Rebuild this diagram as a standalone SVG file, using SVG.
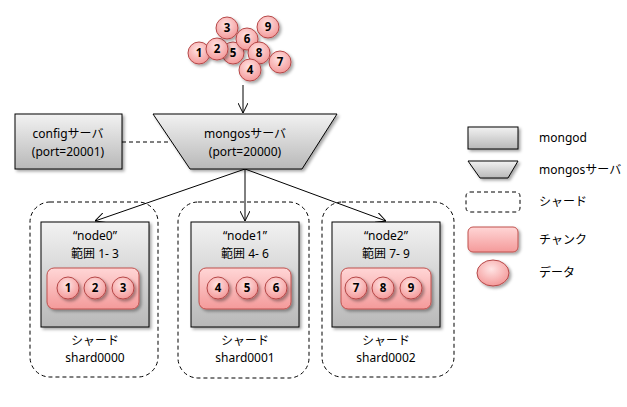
<svg xmlns="http://www.w3.org/2000/svg" width="627" height="407" viewBox="0 0 627 407">
<defs>
<linearGradient id="gray" x1="0" y1="0" x2="0" y2="1">
<stop offset="0" stop-color="#f2f2f2"/>
<stop offset="1" stop-color="#b8b8b8"/>
</linearGradient>
<linearGradient id="pink" x1="0" y1="0" x2="0" y2="1">
<stop offset="0" stop-color="#ffd6d6"/>
<stop offset="1" stop-color="#f49a9a"/>
</linearGradient>
<radialGradient id="dot" cx="0.45" cy="0.35" r="0.7">
<stop offset="0" stop-color="#ffe4e4"/>
<stop offset="1" stop-color="#f39494"/>
</radialGradient>
<filter id="sh" x="-20%" y="-20%" width="150%" height="150%">
<feDropShadow dx="2" dy="2" stdDeviation="1.5" flood-color="#000" flood-opacity="0.35"/>
</filter>
<marker id="arr" viewBox="0 0 10 10" refX="10" refY="5" markerWidth="10" markerHeight="10" markerUnits="userSpaceOnUse" orient="auto">
<path d="M0,0 L10,5 L0,10" fill="none" stroke="#000" stroke-width="1"/>
</marker>
</defs>
<style>
text{font-family:"Noto Sans","Noto Sans CJK JP",sans-serif;font-size:12px;fill:#000;text-anchor:middle}
.lg{text-anchor:start}
.box{fill:url(#gray);stroke:#000;stroke-width:1;filter:url(#sh)}
.chunk{fill:url(#pink);stroke:#c0504d;stroke-width:1;filter:url(#sh)}
.dot{fill:url(#dot);stroke:#b54747;stroke-width:1;filter:url(#sh)}
.dn{font-size:11.5px;font-weight:bold}
.shard{fill:none;stroke:#000;stroke-width:1;stroke-dasharray:4,3}
.con{fill:none;stroke:#000;stroke-width:1}
</style>
<rect width="627" height="407" fill="#fff"/>

<g id="data-cloud">
<circle class="dot" cx="199" cy="53" r="11"/><text class="dn" x="199" y="57">1</text>
<circle class="dot" cx="233" cy="53" r="11"/><text class="dn" x="233" y="57">5</text>
<circle class="dot" cx="217" cy="49" r="11"/><text class="dn" x="217" y="53">2</text>
<circle class="dot" cx="227" cy="28" r="11"/><text class="dn" x="227" y="32">3</text>
<circle class="dot" cx="268" cy="27" r="11"/><text class="dn" x="268" y="31">9</text>
<circle class="dot" cx="247" cy="39" r="11"/><text class="dn" x="247" y="43">6</text>
<circle class="dot" cx="259" cy="53" r="11"/><text class="dn" x="259" y="57">8</text>
<circle class="dot" cx="250" cy="70" r="11"/><text class="dn" x="250" y="74">4</text>
<circle class="dot" cx="280" cy="62" r="11"/><text class="dn" x="280" y="66">7</text>
</g>

<g id="connectors">
<line class="con" x1="243" y1="85" x2="243" y2="113" marker-end="url(#arr)"/>
<line class="con" x1="122" y1="142" x2="170" y2="142" stroke-dasharray="4,3"/>
<line class="con" x1="245" y1="169" x2="95" y2="221" marker-end="url(#arr)"/>
<line class="con" x1="245" y1="169" x2="245" y2="221" marker-end="url(#arr)"/>
<line class="con" x1="245" y1="169" x2="386" y2="221" marker-end="url(#arr)"/>
</g>

<g id="config">
<rect class="box" x="15" y="114" width="107" height="55"/>
<text x="68" y="138">configサーバ</text>
<text x="68" y="156">(port=20001)</text>
</g>

<g id="mongos">
<polygon class="box" points="153,114 337,114 302,169 190,169"/>
<text x="245" y="138">mongosサーバ</text>
<text x="245" y="156">(port=20000)</text>
</g>

<g id="shard0">
<rect class="shard" x="30" y="202" width="128" height="175" rx="20"/>
<rect class="box" x="41" y="222" width="108" height="105"/>
<text x="95" y="240">“node0”</text>
<text x="95" y="258">範囲 1- 3</text>
<rect class="chunk" x="47" y="268" width="92" height="41" rx="7"/>
<circle class="dot" cx="68" cy="288" r="11"/><text class="dn" x="68" y="292">1</text>
<circle class="dot" cx="95" cy="288" r="11"/><text class="dn" x="95" y="292">2</text>
<circle class="dot" cx="123" cy="288" r="11"/><text class="dn" x="123" y="292">3</text>
<text x="95" y="345">シャード</text>
<text x="95" y="362">shard0000</text>
</g>

<g id="shard1">
<rect class="shard" x="178" y="202" width="131" height="176" rx="20"/>
<rect class="box" x="191" y="222" width="108" height="105"/>
<text x="245" y="240">“node1”</text>
<text x="245" y="258">範囲 4- 6</text>
<rect class="chunk" x="199" y="268" width="92" height="41" rx="7"/>
<circle class="dot" cx="218" cy="288" r="11"/><text class="dn" x="218" y="292">4</text>
<circle class="dot" cx="247" cy="288" r="11"/><text class="dn" x="247" y="292">5</text>
<circle class="dot" cx="276" cy="288" r="11"/><text class="dn" x="276" y="292">6</text>
<text x="245" y="345">シャード</text>
<text x="245" y="362">shard0001</text>
</g>

<g id="shard2">
<rect class="shard" x="322" y="202" width="132" height="175" rx="20"/>
<rect class="box" x="332" y="222" width="108" height="105"/>
<text x="386" y="240">“node2”</text>
<text x="386" y="258">範囲 7- 9</text>
<rect class="chunk" x="341" y="268" width="90" height="41" rx="7"/>
<circle class="dot" cx="356" cy="288" r="11"/><text class="dn" x="356" y="292">7</text>
<circle class="dot" cx="383" cy="288" r="11"/><text class="dn" x="383" y="292">8</text>
<circle class="dot" cx="411" cy="288" r="11"/><text class="dn" x="411" y="292">9</text>
<text x="386" y="345">シャード</text>
<text x="386" y="362">shard0002</text>
</g>

<g id="legend">
<rect class="box" x="468" y="127" width="50" height="22"/>
<text class="lg" x="539" y="142">mongod</text>
<polygon class="box" points="468,161 518,161 508,178 480,178"/>
<text class="lg" x="539" y="174">mongosサーバ</text>
<rect class="shard" x="466" y="192" width="54" height="20" rx="4"/>
<text class="lg" x="539" y="206">シャード</text>
<rect class="chunk" x="468" y="227" width="50" height="25" rx="5"/>
<text class="lg" x="539" y="244">チャンク</text>
<ellipse class="dot" cx="493" cy="273" rx="16" ry="13"/>
<text class="lg" x="539" y="277">データ</text>
</g>
</svg>
